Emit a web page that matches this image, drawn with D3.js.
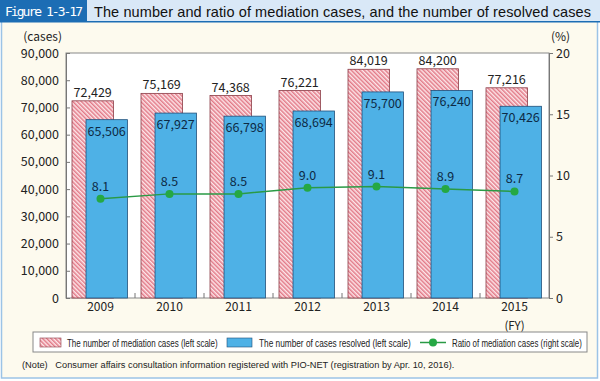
<!DOCTYPE html>
<html><head><meta charset="utf-8">
<script src="https://cdn.jsdelivr.net/npm/d3@7"></script>
<style>body{margin:0;background:#fff}svg{display:block}</style>
</head><body>
<svg id="c" width="600" height="381"></svg>
<script>
const years = ["2009","2010","2011","2012","2013","2014","2015"];
const mediation = [72429,75169,74368,76221,84019,84200,77216];
const resolved = [65506,67927,66798,68694,75700,76240,70426];
const ratio = [8.1,8.5,8.5,9.0,9.1,8.9,8.7];
const leftTicks = [0,10000,20000,30000,40000,50000,60000,70000,80000,90000];
const rightTicks = [0,5,10,15,20];

const svg = d3.select("#c");
const font = "'Noto Sans CJK JP','Noto Sans',sans-serif";

// frame
svg.append("rect").attr("x",1.5).attr("y",21).attr("width",596).attr("height",357)
  .attr("fill","#fdfaee").attr("stroke","#9cc3e6").attr("stroke-width",1.5);
// title bar
svg.append("rect").attr("x",0).attr("y",0).attr("width",600).attr("height",22).attr("fill","#d9e8f7");
svg.append("rect").attr("x",0).attr("y",0).attr("width",87).attr("height",22).attr("fill","#1c6db4");
svg.append("rect").attr("x",0).attr("y",21).attr("width",600).attr("height",1.5).attr("fill","#1c6db4");
svg.append("text").attr("x",5).attr("y",16).attr("fill","#fff").attr("font-family","'DejaVu Sans Mono',monospace")
  .attr("font-size",13).attr("textLength",78).text("Figure 1-3-17");
svg.append("text").attr("x",94).attr("y",16.5).attr("fill","#111").attr("font-family","'Liberation Sans',Arial,sans-serif")
  .attr("font-size",14.5).attr("textLength",497).text("The number and ratio of mediation cases, and the number of resolved cases");

const m = {l:66, r:549, t:53, b:298};
const x = d3.scaleBand().domain(years).range([m.l,m.r]);
const yL = d3.scaleLinear().domain([0,90000]).range([m.b,m.t]);
const yR = d3.scaleLinear().domain([0,20]).range([m.b,m.t]);

// pattern
const defs = svg.append("defs");
const pat = defs.append("pattern").attr("id","hatch").attr("patternUnits","userSpaceOnUse")
  .attr("width",3).attr("height",3).attr("patternTransform","rotate(-45)");
pat.append("rect").attr("width",3).attr("height",3).attr("fill","#fde6e9");
pat.append("rect").attr("width",1.5).attr("height",3).attr("fill","#e27a88");

svg.append("rect").attr("x",m.l).attr("y",m.t).attr("width",m.r-m.l).attr("height",m.b-m.t)
  .attr("fill","#fff").attr("stroke","#888").attr("stroke-width",1);

const bw = x.bandwidth()*0.6;
const g = svg.append("g");
g.selectAll(".pb").data(years).join("rect")
  .attr("x",d=>x(d)+x.bandwidth()*0.087).attr("y",(d,i)=>yL(mediation[i]))
  .attr("width",bw).attr("height",(d,i)=>m.b-yL(mediation[i]))
  .attr("fill","url(#hatch)").attr("stroke","#8a3b45").attr("stroke-width",0.8);
g.selectAll(".bb").data(years).join("rect")
  .attr("x",d=>x(d)+x.bandwidth()*0.29).attr("y",(d,i)=>yL(resolved[i]))
  .attr("width",bw).attr("height",(d,i)=>m.b-yL(resolved[i]))
  .attr("fill","#4eb1e6").attr("stroke","#1f4f7a").attr("stroke-width",0.8);

// axes
const axL = d3.axisLeft(yL).tickValues(leftTicks).tickSize(-4).tickPadding(7).tickFormat(d3.format(","));
const gl = svg.append("g").attr("transform",`translate(${m.l},0)`).call(axL);
const axR = d3.axisRight(yR).tickValues(rightTicks).tickSize(4).tickPadding(3);
const gr = svg.append("g").attr("transform",`translate(${m.r},0)`).call(axR);
const axB = d3.axisBottom(x).tickSize(0).tickPadding(3);
const gb = svg.append("g").attr("transform",`translate(0,${m.b})`).call(axB);
[gl,gr,gb].forEach(a=>{
  a.selectAll("path").attr("stroke","#777");
  a.selectAll("line").attr("stroke","#777");
  a.selectAll("text").attr("font-family",font).attr("font-size",12.5).attr("fill","#222");
});
gb.select(".domain").remove();
gb.selectAll("text").attr("dy","0.8em").attr("font-size",12);
// band separator ticks
svg.append("g").selectAll("line").data(years.slice(1)).join("line")
  .attr("x1",d=>x(d)).attr("x2",d=>x(d)).attr("y1",m.b).attr("y2",m.b-5).attr("stroke","#777");
svg.append("text").attr("x",x("2015")+x.bandwidth()/2).attr("y",330).attr("text-anchor","middle")
  .attr("font-family",font).attr("font-size",11.5).attr("fill","#222").text("(FY)");
svg.append("text").attr("x",62).attr("y",41).attr("text-anchor","end")
  .attr("font-family",font).attr("font-size",12).attr("fill","#222").text("(cases)");
svg.append("text").attr("x",551).attr("y",41)
  .attr("font-family",font).attr("font-size",12).attr("fill","#222").text("(%)");

// value labels
const lab = svg.append("g").attr("font-family",font).attr("font-size",12.5).attr("fill","#222").attr("text-anchor","middle");
lab.selectAll(".lm").data(years).join("text")
  .attr("x",d=>x(d)+x.bandwidth()*0.087+bw/2).attr("y",(d,i)=>yL(mediation[i])-4)
  .text((d,i)=>d3.format(",")(mediation[i]));
lab.selectAll(".lr").data(years).join("text")
  .attr("x",d=>x(d)+x.bandwidth()*0.29+bw/2).attr("y",(d,i)=>yL(resolved[i])+16)
  .attr("fill","#0d2a45")
  .text((d,i)=>d3.format(",")(resolved[i]));

// ratio line
const line = d3.line().x((d,i)=>x(years[i])+x.bandwidth()/2).y(d=>yR(d));
svg.append("path").datum(ratio).attr("d",line).attr("fill","none").attr("stroke","#2a9a45").attr("stroke-width",1.5);
svg.append("g").selectAll("circle").data(ratio).join("circle")
  .attr("cx",(d,i)=>x(years[i])+x.bandwidth()/2).attr("cy",d=>yR(d)).attr("r",4).attr("fill","#25a844");
lab.selectAll(".lt").data(ratio).join("text")
  .attr("x",(d,i)=>x(years[i])+x.bandwidth()/2).attr("y",d=>yR(d)-8)
  .attr("fill","#0d2a45")
  .text(d=>d3.format(".1f")(d));

// legend
const lg = svg.append("g");
lg.append("rect").attr("x",33).attr("y",332).attr("width",554).attr("height",20).attr("fill","#fff").attr("stroke","#888");
lg.append("rect").attr("x",40).attr("y",338).attr("width",21).attr("height",9).attr("fill","url(#hatch)").attr("stroke","#8a3b45").attr("stroke-width",0.6);
lg.append("rect").attr("x",227).attr("y",338).attr("width",25).attr("height",9).attr("fill","#4eb1e6").attr("stroke","#1f4f7a").attr("stroke-width",0.6);
lg.append("line").attr("x1",420).attr("x2",446).attr("y1",342.5).attr("y2",342.5).attr("stroke","#2a9a45").attr("stroke-width",1.5);
lg.append("circle").attr("cx",433).attr("cy",342.5).attr("r",4).attr("fill","#25a844");
const lt = [["The number of mediation cases (left scale)",67,151],["The number of cases resolved (left scale)",259,152],["Ratio of mediation cases (right scale)",452,130]];
lt.forEach(([t,xx,w])=>{
  const el = lg.append("text").attr("x",0).attr("y",0).attr("font-family","'Liberation Sans',sans-serif")
    .attr("font-size",10.5).attr("fill","#222").text(t);
  const w0 = el.node().getComputedTextLength();
  el.attr("transform",`translate(${xx},346.5) scale(${w/w0},1)`);
});

const note = svg.append("text").attr("x",0).attr("y",0).attr("font-family","'Liberation Sans',sans-serif").attr("font-size",9.5)
  .attr("fill","#222").attr("xml:space","preserve")
  .text("(Note)   Consumer affairs consultation information registered with PIO-NET (registration by Apr. 10, 2016).");
const nw = note.node().getComputedTextLength();
note.attr("transform",`translate(22,368) scale(${433/nw},1)`);
</script>
</body></html>
